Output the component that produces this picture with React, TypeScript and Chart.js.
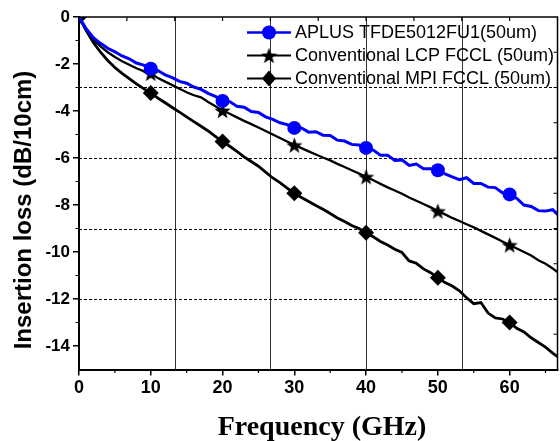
import React, { useEffect, useRef } from 'react';
import { Chart, registerables } from 'chart.js';

Chart.register(...registerables);

// ---- data ----
const freq = [
  0, 1, 2, 3, 4, 5, 6, 7, 8, 9, 10, 11, 12, 13, 14, 15, 16, 17, 18, 19, 20,
  21, 22, 23, 24, 25, 26, 27, 28, 29, 30, 31, 32, 33, 34, 35, 36, 37, 38, 39, 40,
  41, 42, 43, 44, 45, 46, 47, 48, 49, 50, 51, 52, 53, 54, 55, 56, 57, 58, 59, 60,
  61, 62, 63, 64, 65, 66, 66.67,
];

const aplus = [
  0, -0.5, -0.88, -1.12, -1.33, -1.48, -1.66, -1.78, -1.96, -2.05, -2.2,
  -2.28, -2.46, -2.58, -2.74, -2.82, -2.98, -3.08, -3.25, -3.38, -3.57,
  -3.6, -3.8, -3.84, -4.02, -4.06, -4.25, -4.36, -4.5, -4.58, -4.72,
  -4.72, -4.9, -4.88, -5.03, -5.04, -5.24, -5.28, -5.42, -5.45, -5.57,
  -5.66, -5.88, -5.88, -6.1, -6.08, -6.32, -6.26, -6.46, -6.46, -6.52,
  -6.68, -6.8, -6.92, -6.84, -7.08, -7.08, -7.24, -7.26, -7.48, -7.55,
  -7.72, -8.0, -8.06, -8.24, -8.26, -8.2, -8.4,
];

const lcp = [
  0, -0.55, -0.95, -1.25, -1.5, -1.7, -1.88, -2.03, -2.18, -2.3, -2.4,
  -2.6, -2.75, -2.9, -3.05, -3.2, -3.33, -3.42, -3.62, -3.8, -3.98,
  -4.12, -4.27, -4.42, -4.56, -4.7, -4.85, -5.0, -5.15, -5.3, -5.45,
  -5.58, -5.72, -5.85, -5.98, -6.1, -6.25, -6.38, -6.52, -6.66, -6.8,
  -6.95, -7.1, -7.25, -7.38, -7.52, -7.68, -7.82, -7.96, -8.1, -8.26,
  -8.4, -8.55, -8.68, -8.82, -8.95, -9.1, -9.25, -9.4, -9.55, -9.7,
  -9.85, -10.0, -10.15, -10.35, -10.5, -10.7, -10.85,
];

const mpi = [
  0, -0.58, -1.08, -1.5, -1.85, -2.15, -2.4, -2.62, -2.85, -3.05, -3.23,
  -3.45, -3.65, -3.85, -4.05, -4.25, -4.45, -4.65, -4.85, -5.08, -5.3,
  -5.5, -5.72, -5.95, -6.15, -6.35, -6.6, -6.85, -7.05, -7.28, -7.5,
  -7.68, -7.85, -8.02, -8.18, -8.36, -8.55, -8.7, -8.87, -9.0, -9.18,
  -9.35, -9.55, -9.7, -9.88, -10.02, -10.38, -10.48, -10.72, -10.88, -11.1,
  -11.3, -11.45, -11.65, -11.95, -12.2, -12.15, -12.6, -12.8, -12.85, -13.0,
  -13.25, -13.4, -13.65, -13.85, -14.05, -14.3, -14.45,
];

const markerFreqs = [10, 20, 30, 40, 50, 60];
const mpiMarkerFreqs = [0, 10, 20, 30, 40, 50, 60];

const seriesNames = [
  'APLUS TFDE5012FU1(50um)',
  'Conventional LCP FCCL (50um)',
  'Conventional MPI FCCL (50um)',
];

const xMin = 0;
const xMax = 66.67;
const yMin = -15;
const yMax = 0;
const xMajorStep = 10;
const xMinorTicks = [5, 15, 25, 35, 45, 55, 65];
const yMajorStep = 2;
const yMinorTicks = [-1, -3, -5, -7, -9, -11, -13];
const xGridValues = [13.333, 26.667, 40, 53.333];
const yGridValues = [-3, -6, -9, -12];
const topTickValues = [6.667, 13.333, 20, 26.667, 33.333, 40, 46.667, 53.333, 60];
const rightTickValues = [-1.5, -3, -4.5, -6, -7.5, -9, -10.5, -12, -13.5];

const xTitle = 'Frequency (GHz)';
const yTitle = 'Insertion loss (dB/10cm)';

const SANS = '"Liberation Sans", Arial, sans-serif';
const SERIF = '"Liberation Serif", "Times New Roman", serif';

function makeStar(size: number, color: string): HTMLCanvasElement {
  const c = document.createElement('canvas');
  c.width = size;
  c.height = size;
  const g = c.getContext('2d')!;
  const cx = size / 2;
  const cy = size / 2 + 0.8;
  const R = size / 2;
  const r = R * 0.42;
  g.beginPath();
  for (let i = 0; i < 10; i++) {
    const ang = -Math.PI / 2 + (i * Math.PI) / 5;
    const rad = i % 2 === 0 ? R : r;
    const px = cx + rad * Math.cos(ang);
    const py = cy + rad * Math.sin(ang);
    if (i === 0) g.moveTo(px, py);
    else g.lineTo(px, py);
  }
  g.closePath();
  g.fillStyle = color;
  g.fill();
  return c;
}

const pts = (ys: number[]) => freq.map((f, i) => ({ x: f, y: ys[i] }));

export default function App() {
  const ref = useRef<HTMLCanvasElement | null>(null);

  useEffect(() => {
    if (!ref.current) return;
    const star = makeStar(17, '#000');

    const decor = {
      id: 'decor',
      beforeDatasetsDraw(chart: any) {
        const { ctx, chartArea: a, scales } = chart;
        const xs = scales.x;
        const ys = scales.y;
        ctx.save();
        ctx.lineWidth = 1;
        ctx.strokeStyle = '#333';
        ctx.beginPath();
        for (const v of xGridValues) {
          const p = Math.round(xs.getPixelForValue(v)) + 0.5;
          ctx.moveTo(p, a.top);
          ctx.lineTo(p, a.bottom);
        }
        ctx.stroke();
        ctx.setLineDash([3, 2]);
        ctx.strokeStyle = '#000';
        ctx.beginPath();
        for (const v of yGridValues) {
          const p = Math.round(ys.getPixelForValue(v)) + 0.5;
          ctx.moveTo(a.left, p);
          ctx.lineTo(a.right, p);
        }
        ctx.stroke();
        ctx.restore();
      },
      afterDatasetsDraw(chart: any) {
        const { ctx } = chart;
        ctx.save();
        const rows = [32.5, 55.5, 78.5];
        const colors = ['#0000ff', '#000', '#000'];
        const widths = [2.5, 2, 2];
        rows.forEach((ry, i) => {
          ctx.strokeStyle = colors[i];
          ctx.lineWidth = widths[i];
          ctx.beginPath();
          ctx.moveTo(247, ry);
          ctx.lineTo(291, ry);
          ctx.stroke();
          const mx = 269;
          if (i === 0) {
            ctx.fillStyle = '#0000ff';
            ctx.beginPath();
            ctx.arc(mx, ry, 7, 0, Math.PI * 2);
            ctx.fill();
          } else if (i === 1) {
            ctx.drawImage(star, mx - star.width / 2, ry - star.height / 2);
          } else {
            ctx.fillStyle = '#000';
            ctx.beginPath();
            ctx.moveTo(mx, ry - 8);
            ctx.lineTo(mx + 7, ry);
            ctx.lineTo(mx, ry + 8);
            ctx.lineTo(mx - 7, ry);
            ctx.closePath();
            ctx.fill();
          }
          ctx.fillStyle = '#000';
          ctx.font = `18px ${SANS}`;
          ctx.textAlign = 'left';
          ctx.textBaseline = 'middle';
          ctx.fillText(seriesNames[i], 295, ry + 1);
        });
        ctx.restore();
      },
      afterDraw(chart: any) {
        const { ctx, chartArea: a, scales } = chart;
        const xs = scales.x;
        const ys = scales.y;
        ctx.save();
        ctx.strokeStyle = '#000';
        ctx.lineWidth = 1.5;
        ctx.beginPath();
        ctx.moveTo(a.left, a.top);
        ctx.lineTo(a.right, a.top);
        ctx.lineTo(a.right, a.bottom);
        ctx.stroke();
        ctx.lineWidth = 1.2;
        ctx.beginPath();
        for (const v of xMinorTicks) {
          const p = xs.getPixelForValue(v);
          ctx.moveTo(p, a.bottom);
          ctx.lineTo(p, a.bottom + 3.5);
        }
        for (const v of yMinorTicks) {
          const p = ys.getPixelForValue(v);
          ctx.moveTo(a.left, p);
          ctx.lineTo(a.left - 3.5, p);
        }
        for (const v of topTickValues) {
          const p = xs.getPixelForValue(v);
          ctx.moveTo(p, a.top);
          ctx.lineTo(p, a.top + 4);
        }
        for (const v of rightTickValues) {
          const p = ys.getPixelForValue(v);
          ctx.moveTo(a.right, p);
          ctx.lineTo(a.right - 4, p);
        }
        ctx.stroke();

        ctx.fillStyle = '#000';
        ctx.font = `bold 28px ${SERIF}`;
        ctx.textAlign = 'center';
        ctx.textBaseline = 'alphabetic';
        ctx.fillText(xTitle, 322, 435);

        ctx.translate(31, 210);
        ctx.rotate(-Math.PI / 2);
        ctx.font = `bold 24px ${SANS}`;
        ctx.textAlign = 'center';
        ctx.textBaseline = 'alphabetic';
        ctx.fillText(yTitle, 0, 0);
        ctx.restore();
      },
    };

    const chart = new Chart(ref.current, {
      type: 'line',
      data: {
        datasets: [
          {
            label: seriesNames[0],
            data: pts(aplus),
            borderColor: '#0000ff',
            backgroundColor: '#0000ff',
            borderWidth: 3,
            pointStyle: 'circle',
            pointRadius: (c: any) => (markerFreqs.includes(freq[c.dataIndex]) ? 7 : 0),
            pointBorderWidth: 0,
            pointHoverRadius: 0,
            tension: 0,
          },
          {
            label: seriesNames[1],
            data: pts(lcp),
            borderColor: '#000',
            backgroundColor: '#000',
            borderWidth: 2.3,
            pointStyle: star as any,
            pointRadius: (c: any) => (markerFreqs.includes(freq[c.dataIndex]) ? 7 : 0),
            pointHoverRadius: 0,
            tension: 0,
          },
          {
            label: seriesNames[2],
            data: pts(mpi),
            borderColor: '#000',
            backgroundColor: '#000',
            borderWidth: 2.8,
            pointStyle: 'rectRot',
            pointRadius: (c: any) => (mpiMarkerFreqs.includes(freq[c.dataIndex]) ? 8 : 0),
            pointBorderWidth: 0,
            pointHoverRadius: 0,
            tension: 0,
            clip: 0,
          },
        ],
      },
      options: {
        animation: false,
        responsive: true,
        maintainAspectRatio: false,
        events: [],
        layout: { padding: { left: 0, right: 2.5, top: 17, bottom: 0 }, autoPadding: false },
        plugins: { legend: { display: false }, tooltip: { enabled: false }, title: { display: false } },
        scales: {
          x: {
            type: 'linear',
            min: xMin,
            max: xMax,
            afterFit: (s: any) => {
              s.height = 71.5;
            },
            ticks: {
              stepSize: xMajorStep,
              includeBounds: false,
              maxRotation: 0,
              autoSkip: false,
              color: '#000',
              padding: 2,
              font: { family: SANS, size: 18, weight: 'bold' },
            },
            grid: { drawOnChartArea: false, drawTicks: true, tickLength: 6, color: '#000', lineWidth: 1.5 },
            border: { display: true, color: '#000', width: 2 },
          },
          y: {
            type: 'linear',
            min: yMin,
            max: yMax,
            afterFit: (s: any) => {
              s.width = 79;
            },
            ticks: {
              stepSize: yMajorStep,
              includeBounds: false,
              autoSkip: false,
              color: '#000',
              padding: 3,
              font: { family: SANS, size: 17, weight: 'bold' },
            },
            grid: { drawOnChartArea: false, drawTicks: true, tickLength: 6, color: '#000', lineWidth: 1.5 },
            border: { display: true, color: '#000', width: 2 },
          },
        },
      },
      plugins: [decor],
    } as any);

    return () => chart.destroy();
  }, []);

  return (
    <div style={{ position: 'absolute', left: 0, top: 0, width: 560, height: 441, background: '#fff' }}>
      <canvas ref={ref} />
    </div>
  );
}
